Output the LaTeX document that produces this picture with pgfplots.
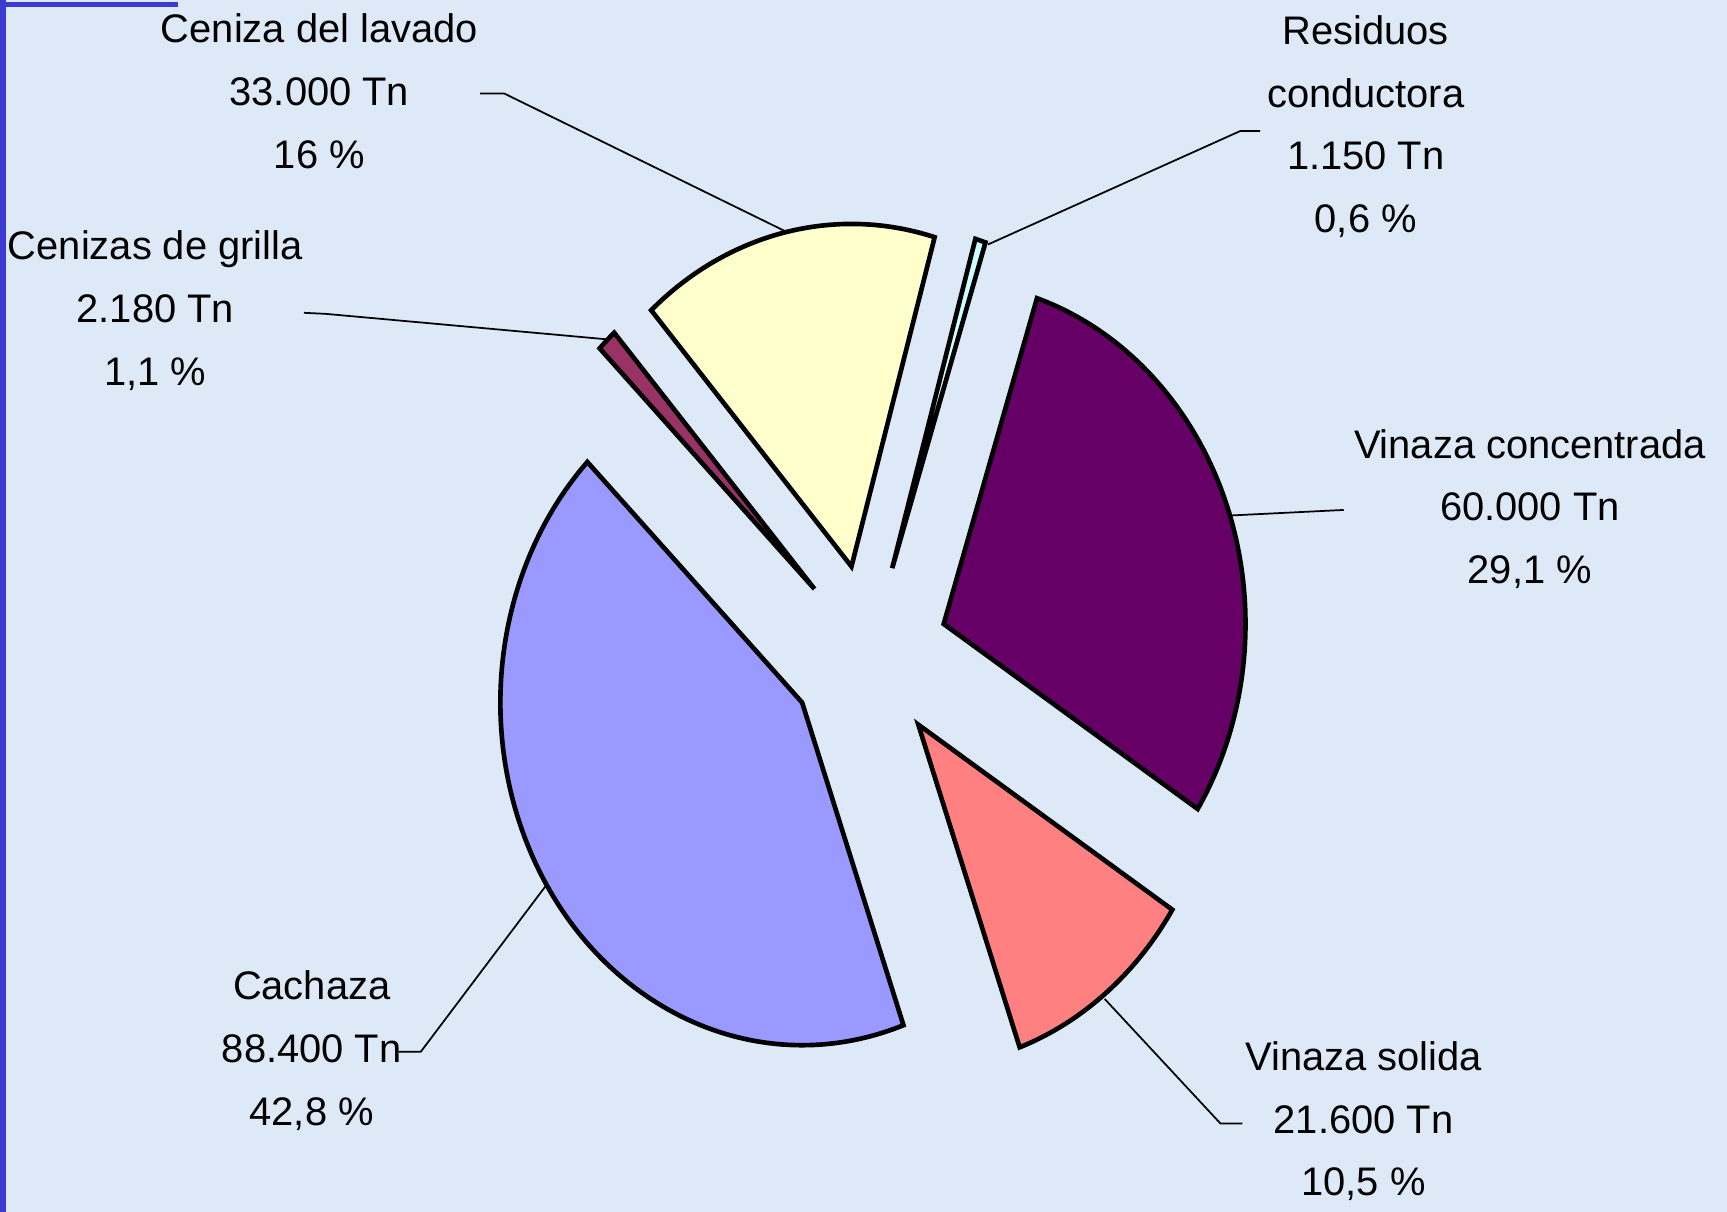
\documentclass[border=0pt]{standalone}
\usepackage{pgfplots}
\usepackage{pgfplotstable}
\pgfplotsset{compat=1.18}
\usepackage{fontspec}
\setmainfont{Liberation Sans}
\definecolor{bg}{RGB}{221,233,246}
\definecolor{edgeblue}{RGB}{60,60,210}
\definecolor{cResid}{RGB}{204,255,255}
\definecolor{cVconc}{RGB}{102,0,102}
\definecolor{cVsol}{RGB}{255,128,128}
\definecolor{cCach}{RGB}{153,153,255}
\definecolor{cGrill}{RGB}{153,51,102}
\definecolor{cLav}{RGB}{255,255,204}

\pgfplotstableread{
name value
Residuos 1150
Vconc 60000
Vsol 21600
Cach 88400
Grill 2180
Lav 33000
}\piedata

\begin{document}
\begin{tikzpicture}
\begin{axis}[width=15.68cm,height=11cm,scale only axis,
  xmin=0,xmax=1568,ymin=0,ymax=1100,hide axis,clip=false]
\pgfplotsextra{
  \fill[bg] (axis cs:0,0) rectangle (axis cs:1568,1100);
  \draw[edgeblue,line width=1.4pt] (axis cs:2.6,0) -- (axis cs:2.6,1100);
  \draw[edgeblue,line width=1.1pt] (axis cs:0,1096) -- (axis cs:162,1096);
  \def\cx{789}\def\cy{506}
  \xdef\curang{74}
  \foreach \i/\col in {0/cResid,1/cVconc,2/cVsol,3/cCach,4/cGrill,5/cLav}{
    \pgfplotstablegetelem{\i}{value}\of\piedata
    \edef\sweep{\fpeval{\pgfplotsretval/206330*360}}
    \pgfmathsetmacro\aone{\curang}
    \pgfmathsetmacro\atwo{\curang-\sweep}
    \pgfmathsetmacro\mid{(\aone+\atwo)/2}
    \pgfmathsetmacro\tx{\cx+72*cos(\mid)}
    \pgfmathsetmacro\ty{\cy+81.7*sin(\mid)}
    \pgfmathsetmacro\sx{\tx+274*cos(\aone)}
    \pgfmathsetmacro\sy{\ty+311*sin(\aone)}
    \filldraw[fill=\col,draw=black,line width=1.2pt,line join=miter]
      (axis cs:\tx,\ty) -- (axis cs:\sx,\sy)
      arc[start angle=\aone,end angle=\atwo,x radius=2.74cm,y radius=3.11cm] -- cycle;
    \xdef\curang{\atwo}
  }
  % leader lines
  \draw[black,line width=0.45pt] (axis cs:436,1015) -- (axis cs:458,1015) -- (axis cs:713,890);
  \draw[black,line width=0.45pt] (axis cs:1144,981) -- (axis cs:1126,981) -- (axis cs:897,878);
  \draw[black,line width=0.45pt] (axis cs:276,816) -- (axis cs:296,815) -- (axis cs:550,792);
  \draw[black,line width=0.45pt] (axis cs:1220,637) -- (axis cs:1118,632);
  \draw[black,line width=0.45pt] (axis cs:362,145) -- (axis cs:382,145) -- (axis cs:495,295);
  \draw[black,line width=0.45pt] (axis cs:1128,80) -- (axis cs:1108,80) -- (axis cs:1003,193);
  % labels
  \tikzset{lab/.style={align=center,inner sep=0pt,font=\fontsize{10.3}{16.2}\selectfont}}
  \node[lab] at (axis cs:290,1017) {Ceniza del lavado\\33.000 Tn\\16 \%};
  \node[lab] at (axis cs:1240,985) {Residuos\\conductora\\1.150 Tn\\0,6 \%};
  \node[lab] at (axis cs:141,818) {Cenizas de grilla\\2.180 Tn\\1,1 \%};
  \node[lab] at (axis cs:1389,638) {Vinaza concentrada\\60.000 Tn\\29,1 \%};
  \node[lab] at (axis cs:283,146) {Cachaza\\88.400 Tn\\42,8 \%};
  \node[lab] at (axis cs:1238,82) {Vinaza solida\\21.600 Tn\\10,5 \%};
}
\end{axis}
\pgfresetboundingbox
\path[use as bounding box] (current axis.south west) rectangle (current axis.north east);
\end{tikzpicture}
\end{document}
